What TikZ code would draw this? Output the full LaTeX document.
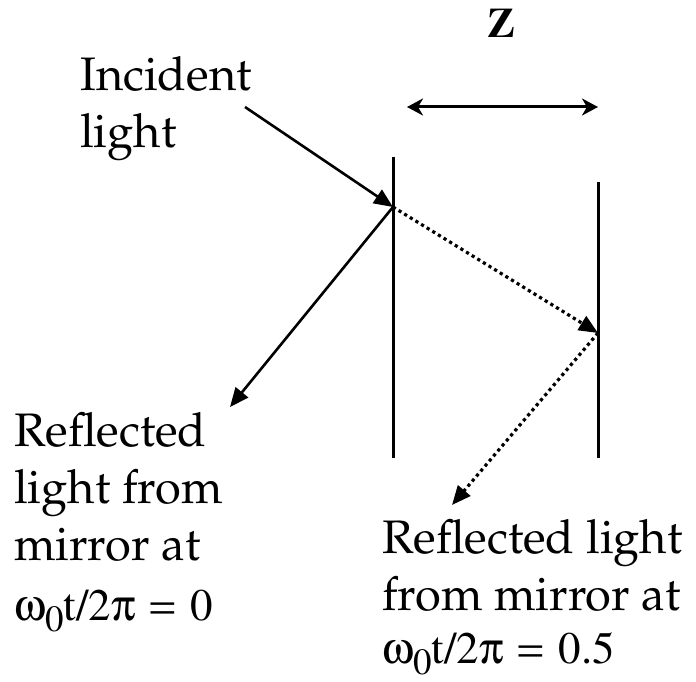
\documentclass[tikz,border=0pt]{standalone}
\usepackage[T1]{fontenc}
\usepackage{fontspec}
\usepackage{pifont}
\newcommand\pal{\fontencoding{T1}\fontfamily{ppl}\selectfont}
\newcommand\tim{\fontencoding{T1}\fontfamily{ptm}\selectfont}
\newcommand\gom{\Pisymbol{psy}{119}}
\newcommand\gpi{\Pisymbol{psy}{112}}
\newcommand\subzero{\raisebox{-11pt}{\fontsize{37}{37}\selectfont 0}}
\newcommand\eqsp{\hspace{15pt}\Pisymbol{psy}{61}\hspace{15pt}}
\usetikzlibrary{arrows.meta}
\tikzset{
  lbl/.style={inner sep=0pt, anchor=base west, align=left, font=\pal\fontsize{47}{57}\selectfont},
  frm/.style={inner sep=0pt, anchor=base west, font=\tim\fontsize{45}{50}\selectfont},
  mirror/.style={line width=3pt},
  ray/.style={line width=2.6pt, -{Triangle[length=19pt,width=16pt]}},
  dray/.style={line width=3.2pt, line cap=butt, dash pattern=on 3.2pt off 3.4pt, -{Triangle[length=19pt,width=16pt]}},
  dim/.style={line width=3pt, {Stealth[length=16pt,width=17pt,inset=5pt]}-{Stealth[length=16pt,width=17pt,inset=5pt]}}
}
\begin{document}
\begin{tikzpicture}[x=1pt,y=-1pt]
\useasboundingbox (0,0) rectangle (696,682);
% mirrors
\coordinate (m1t) at (393,157);
\coordinate (m1b) at (393,458);
\coordinate (m2t) at (598,182);
\coordinate (m2b) at (598,458);
\draw[mirror] (m1t) -- (m1b);
\draw[mirror] (m2t) -- (m2b);
% dimension arrow
\coordinate (zl) at (407,107);
\coordinate (zr) at (598,107);
\draw[dim] (zl) -- (zr);
\node[inner sep=0pt, anchor=base, font=\tim\bfseries\fontsize{42}{48}\selectfont] (zlab) at (502,38) {Z};
% rays
\coordinate (src) at (245,107);
\coordinate (hit1) at (393,207);
\coordinate (hit2) at (598,333);
\coordinate (out1) at (230,407);
\coordinate (out2) at (452,505);
\draw[ray] (src) -- (hit1);
\draw[ray] (hit1) -- (out1);
\draw[dray] (hit1) -- (hit2);
\draw[dray] (hit2) -- (out2);
% labels
\node[lbl] (inc) at (80,148) {Incident\\light};
\node[lbl] (refl1) at (14,560) {Reflected\\light from\\mirror at};
\node[frm] (f1) at (14,620) {\gom\subzero t/2\gpi\eqsp 0};
\node[lbl] (refl2) at (382,610) {Reflected light\\from mirror at};
\node[frm] (f2) at (382,663) {\gom\subzero t/2\gpi\eqsp 0.5};
\end{tikzpicture}
\end{document}
